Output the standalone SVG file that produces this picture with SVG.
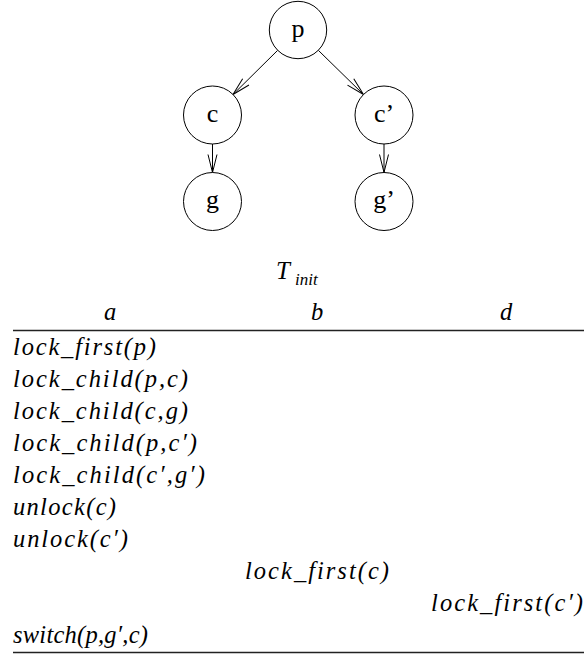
<svg xmlns="http://www.w3.org/2000/svg" width="584" height="659" viewBox="0 0 584 659">
  <style>
    .node circle { fill: #fff; stroke: #000; stroke-width: 1; }
    .node text { font-family: "Liberation Serif", "Times New Roman", Times, "DejaVu Serif", serif; font-size: 26px; text-anchor: middle; fill: #000; }
    .edge { stroke: #000; stroke-width: 1; fill: none; marker-end: url(#vhead); }
    .math { font-family: "Liberation Serif", "Times New Roman", Times, "DejaVu Serif", serif; font-style: italic; font-size: 24.5px; fill: #000; }
    .rule { stroke: #222; stroke-width: 1.4; }
  </style>
  <defs>
    <marker id="vhead" markerUnits="userSpaceOnUse" markerWidth="20" markerHeight="12" refX="18" refY="5" orient="auto" overflow="visible">
      <path d="M0,0.5 L18,5 L0,9.5" fill="none" stroke="#000" stroke-width="1"/>
    </marker>
  </defs>

  <!-- tree edges -->
  <g id="edges">
    <line class="edge" x1="277.7" y1="50.3" x2="233" y2="94.5"/>
    <line class="edge" x1="318.3" y1="50.3" x2="363.5" y2="94.5"/>
    <line class="edge" x1="212.5" y1="144" x2="212.5" y2="172.5"/>
    <line class="edge" x1="384" y1="144" x2="384" y2="172.5"/>
  </g>

  <!-- tree nodes -->
  <g id="node-p" class="node">
    <circle cx="298" cy="30" r="28.7"/>
    <text x="298" y="37">p</text>
  </g>
  <g id="node-c" class="node">
    <circle cx="212.5" cy="115" r="29"/>
    <text x="212.5" y="122">c</text>
  </g>
  <g id="node-c2" class="node">
    <circle cx="384" cy="115" r="29"/>
    <text x="384" y="122">c’</text>
  </g>
  <g id="node-g" class="node">
    <circle cx="212.5" cy="201.5" r="29"/>
    <text x="212.5" y="208">g</text>
  </g>
  <g id="node-g2" class="node">
    <circle cx="384" cy="201.5" r="29"/>
    <text x="384" y="208">g’</text>
  </g>

  <!-- caption -->
  <g id="caption">
    <text class="math" x="276" y="279" style="font-size:25px">T</text>
    <text class="math" x="295" y="285" style="font-size:17px">init</text>
  </g>

  <!-- schedule table -->
  <g id="table">
    <text class="math" x="104" y="320">a</text>
    <text class="math" x="311" y="320">b</text>
    <text class="math" x="500" y="320">d</text>
    <line class="rule" x1="13" y1="330.5" x2="584" y2="330.5"/>

    <text class="math" x="13" y="355" textLength="143" lengthAdjust="spacing">lock_first(p)</text>
    <text class="math" x="13" y="387" textLength="175" lengthAdjust="spacing">lock_child(p,c)</text>
    <text class="math" x="13" y="419" textLength="175" lengthAdjust="spacing">lock_child(c,g)</text>
    <text class="math" x="13" y="451" textLength="184" lengthAdjust="spacing">lock_child(p,c′)</text>
    <text class="math" x="13" y="483" textLength="192" lengthAdjust="spacing">lock_child(c′,g′)</text>
    <text class="math" x="13" y="515" textLength="103" lengthAdjust="spacing">unlock(c)</text>
    <text class="math" x="13" y="547" textLength="115" lengthAdjust="spacing">unlock(c′)</text>
    <text class="math" x="245" y="579" textLength="144" lengthAdjust="spacing">lock_first(c)</text>
    <text class="math" x="431" y="611" textLength="152" lengthAdjust="spacing">lock_first(c′)</text>
    <text class="math" x="13" y="643" textLength="135" lengthAdjust="spacing">switch(p,g′,c)</text>

    <line class="rule" x1="13" y1="652.5" x2="584" y2="652.5"/>
  </g>
</svg>
